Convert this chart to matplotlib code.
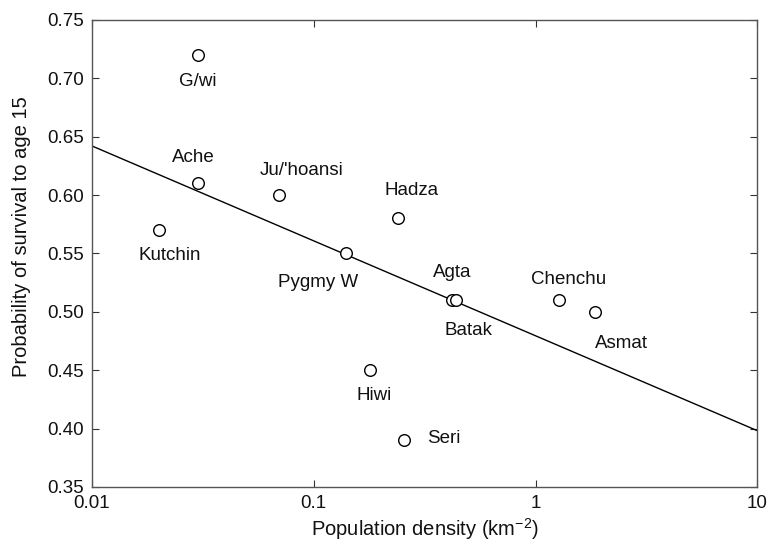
import matplotlib
matplotlib.use("Agg")
import matplotlib.pyplot as plt
import numpy as np
from matplotlib.ticker import FixedLocator, FixedFormatter, NullLocator

plt.rcParams['font.family'] = ['Liberation Sans', 'DejaVu Sans']
plt.rcParams['mathtext.fontset'] = 'custom'
plt.rcParams['mathtext.rm'] = 'Liberation Sans'

groups = ["G/wi", "Ache", "Kutchin", "Ju/'hoansi", "Pygmy W", "Hadza", "Hiwi",
          "Seri", "Agta", "Batak", "Chenchu", "Asmat"]
density = [0.03, 0.03, 0.02, 0.07, 0.14, 0.24, 0.18, 0.255, 0.42, 0.44, 1.28, 1.85]
survival = [0.72, 0.61, 0.57, 0.60, 0.55, 0.58, 0.45, 0.39, 0.51, 0.51, 0.51, 0.50]

fit_intercept = 0.4795   # value at density = 1
fit_slope = -0.0813      # per decade

xticks = [0.01, 0.1, 1, 10]
xticklabels = ["0.01", "0.1", "1", "10"]
yticks = [0.35, 0.40, 0.45, 0.50, 0.55, 0.60, 0.65, 0.70, 0.75]

# label offsets in points (dx, dy, ha)
offsets = {
    "G/wi": (0, -19, 'center'),
    "Ache": (-3, 19, 'center'),
    "Kutchin": (8, -18, 'center'),
    "Ju/'hoansi": (16, 18, 'center'),
    "Pygmy W": (-20, -21, 'center'),
    "Hadza": (10, 20, 'center'),
    "Hiwi": (3, -18, 'center'),
    "Seri": (17, 1, 'left'),
    "Agta": (0, 20, 'center'),
    "Batak": (9, -22, 'center'),
    "Chenchu": (7, 15, 'center'),
    "Asmat": (19, -23, 'center'),
}

fig = plt.figure(figsize=(7.72, 5.54), dpi=100)
ax = fig.add_axes([0.119, 0.121, 0.862, 0.843])

xl = np.array([0.01, 10])
ax.plot(xl, fit_intercept + fit_slope * np.log10(xl), color='black', lw=1.0, zorder=2)
ax.scatter(density, survival, s=70, facecolors='white', edgecolors='black',
           linewidths=1.0, zorder=3)

for g, x, y in zip(groups, density, survival):
    dx, dy, ha = offsets[g]
    ax.annotate(g, (x, y), xytext=(dx, dy), textcoords='offset points',
                ha=ha, va='center', fontsize=13.5, color='#111111')

ax.set_xscale('log')
ax.set_xlim(0.01, 10)
ax.set_ylim(0.35, 0.75)
ax.xaxis.set_major_locator(FixedLocator(xticks))
ax.xaxis.set_major_formatter(FixedFormatter(xticklabels))
ax.xaxis.set_minor_locator(NullLocator())
ax.set_yticks(yticks)
ax.set_yticklabels([f"{v:.2f}" for v in yticks])
ax.tick_params(direction='in', top=True, right=True, length=5, width=0.8,
               labelsize=13.5, colors='#333333', labelcolor='#111111', pad=6)
for s in ax.spines.values():
    s.set_color('#555555')
    s.set_linewidth(1.0)

ax.set_xlabel("Population density (km$^{\\mathregular{-2}}$)", fontsize=14.5,
              color='#111111')
ax.xaxis.set_label_coords(0.5, -0.063)
ax.set_ylabel("Probability of survival to age 15", fontsize=14.5, color='#111111')
ax.yaxis.set_label_coords(-0.092, 0.535)

fig.savefig("out.png", dpi=100)
